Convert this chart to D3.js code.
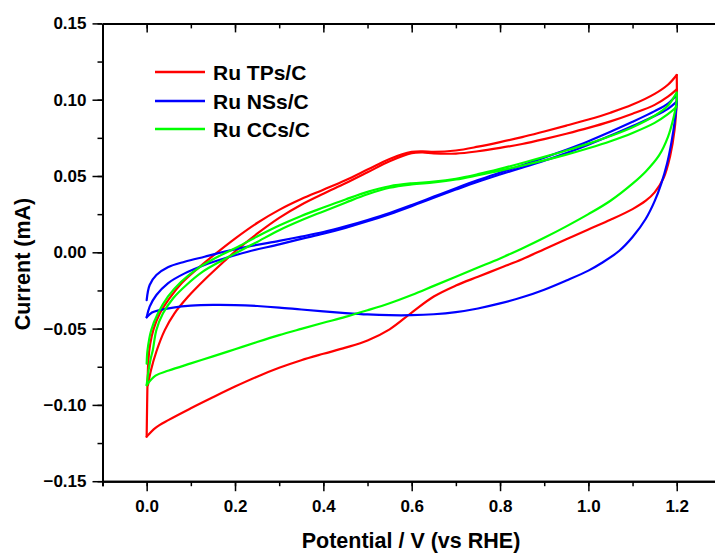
<!DOCTYPE html>
<html>
<head>
<meta charset="utf-8">
<script src="https://cdn.jsdelivr.net/npm/d3@7/dist/d3.min.js"></script>
<style>
  html, body { margin: 0; padding: 0; background: #fff; }
  svg { display: block; }
  text { font-family: "Liberation Sans", Arial, sans-serif; font-weight: bold; fill: #000; }
</style>
</head>
<body>
<svg id="chart" width="715" height="553"></svg>
<script>
// ---------- data (potential V vs RHE, current mA) ----------
const seriesNames = ["Ru TPs/C", "Ru NSs/C", "Ru CCs/C"];
const seriesColors = ["#ff0000", "#0000ff", "#00ff00"];

const xTickValues = [0.0, 0.2, 0.4, 0.6, 0.8, 1.0, 1.2];
const yTickValues = [-0.15, -0.10, -0.05, 0.00, 0.05, 0.10, 0.15];

// Ru TPs/C
const redUpperA = [[0,-0.1208],[0.001,-0.100],[0.002,-0.085],[0.004,-0.070],[0.008,-0.060],[0.016,-0.050],[0.030,-0.040],[0.052,-0.030],[0.080,-0.020],[0.118,-0.010],[0.160,0.000],[0.200,0.0090],[0.25,0.0192],[0.30,0.0278],[0.35,0.0349],[0.40,0.0410],[0.45,0.0472],[0.50,0.0542],[0.55,0.0612],[0.60,0.0658],[0.625,0.0662],[0.65,0.0658],[0.70,0.0667],[0.75,0.0692],[0.80,0.0722],[0.85,0.0755],[0.90,0.0792],[0.95,0.0830],[1.00,0.0870],[1.05,0.0915],[1.10,0.0968],[1.15,0.1038],[1.18,0.1098],[1.20,0.1162]];
const redUpperB = [[0.003,-0.087],[0.010,-0.077],[0.022,-0.065],[0.041,-0.051],[0.063,-0.040],[0.094,-0.029],[0.131,-0.018],[0.177,-0.0055],[0.20,0.0005],[0.25,0.0122],[0.30,0.0226],[0.35,0.0312],[0.40,0.0384],[0.45,0.0452],[0.50,0.0524],[0.55,0.0597],[0.60,0.0650],[0.625,0.0655],[0.65,0.0648],[0.70,0.0647],[0.75,0.0662],[0.80,0.0684],[0.85,0.0710],[0.90,0.0742],[0.95,0.0777],[1.00,0.0815],[1.05,0.0858],[1.10,0.0908],[1.15,0.0966],[1.18,0.1020],[1.20,0.1068]];
const redLower = [[1.20,0.1162],[1.20,0.100],[1.195,0.0800],[1.185,0.0630],[1.17,0.0485],[1.15,0.0393],[1.13,0.0338],[1.10,0.0283],[1.05,0.0213],[1.00,0.0150],[0.95,0.0085],[0.90,0.0020],[0.85,-0.0045],[0.80,-0.0103],[0.75,-0.0160],[0.70,-0.0218],[0.65,-0.0290],[0.60,-0.0395],[0.55,-0.0505],[0.50,-0.0578],[0.45,-0.0625],[0.40,-0.0665],[0.35,-0.0707],[0.30,-0.0757],[0.25,-0.0815],[0.20,-0.0880],[0.15,-0.0950],[0.10,-0.1022],[0.05,-0.1098],[0.02,-0.1150],[0,-0.1208]];

// Ru NSs/C
const blueUpperA = [[0,-0.0313],[0.0068,-0.0214],[0.022,-0.0149],[0.048,-0.0098],[0.086,-0.0062],[0.131,-0.0029],[0.177,0.0004],[0.229,0.0037],[0.30,0.0075],[0.35,0.0103],[0.40,0.0133],[0.45,0.0170],[0.50,0.0212],[0.55,0.0258],[0.60,0.0310],[0.65,0.0365],[0.70,0.0420],[0.75,0.0473],[0.80,0.0522],[0.85,0.0570],[0.90,0.0620],[0.95,0.0672],[1.00,0.0728],[1.05,0.0790],[1.10,0.0855],[1.15,0.0925],[1.18,0.0975],[1.20,0.1031]];
const blueUpperB = [[0,-0.0426],[0.0068,-0.0356],[0.022,-0.0280],[0.048,-0.0203],[0.086,-0.0138],[0.131,-0.0083],[0.177,-0.0039],[0.229,0.0004],[0.30,0.0052],[0.35,0.0088],[0.40,0.0122],[0.45,0.0160],[0.50,0.0203],[0.55,0.0250],[0.60,0.0302],[0.65,0.0357],[0.70,0.0411],[0.75,0.0463],[0.80,0.0510],[0.85,0.0555],[0.90,0.0600],[0.95,0.0650],[1.00,0.0705],[1.05,0.0765],[1.10,0.0828],[1.15,0.0893],[1.18,0.0940],[1.20,0.0987]];
const blueLower = [[1.20,0.1031],[1.20,0.0976],[1.196,0.0870],[1.188,0.0720],[1.178,0.0580],[1.165,0.0450],[1.15,0.0335],[1.13,0.0220],[1.10,0.0100],[1.07,0.0010],[1.03,-0.0070],[1.00,-0.0120],[0.95,-0.0185],[0.90,-0.0245],[0.85,-0.0295],[0.80,-0.0335],[0.75,-0.0368],[0.70,-0.0392],[0.65,-0.0406],[0.60,-0.0412],[0.55,-0.0412],[0.50,-0.0407],[0.45,-0.0398],[0.40,-0.0387],[0.35,-0.0375],[0.30,-0.0362],[0.25,-0.0352],[0.20,-0.0346],[0.15,-0.0345],[0.10,-0.0350],[0.06,-0.0362],[0.03,-0.0378],[0.012,-0.0395],[0,-0.0426]];

// Ru CCs/C
const greenUpperA = [[0,-0.073],[0.002,-0.064],[0.0104,-0.0509],[0.0256,-0.0400],[0.048,-0.0291],[0.078,-0.0193],[0.116,-0.0105],[0.161,-0.0029],[0.207,0.0037],[0.25,0.0103],[0.30,0.0175],[0.35,0.0238],[0.40,0.0293],[0.45,0.0346],[0.50,0.0396],[0.55,0.0433],[0.60,0.0452],[0.65,0.0463],[0.70,0.0482],[0.75,0.0512],[0.80,0.0547],[0.85,0.0585],[0.90,0.0625],[0.95,0.0667],[1.00,0.0712],[1.05,0.0762],[1.10,0.0820],[1.15,0.0895],[1.18,0.0960],[1.20,0.1046]];
const greenUpperB = [[0,-0.087],[0.004,-0.078],[0.009,-0.070],[0.014,-0.064],[0.022,-0.0509],[0.037,-0.0400],[0.060,-0.0301],[0.090,-0.0214],[0.127,-0.0127],[0.173,-0.0050],[0.229,0.0037],[0.25,0.0068],[0.30,0.0145],[0.35,0.0210],[0.40,0.0268],[0.45,0.0325],[0.50,0.0380],[0.55,0.0423],[0.60,0.0445],[0.65,0.0458],[0.70,0.0477],[0.75,0.0505],[0.80,0.0535],[0.85,0.0568],[0.90,0.0602],[0.95,0.0640],[1.00,0.0682],[1.05,0.0728],[1.10,0.0782],[1.15,0.0848],[1.18,0.0905],[1.20,0.0954]];
const greenLower = [[1.20,0.1046],[1.20,0.0998],[1.193,0.0885],[1.18,0.0755],[1.16,0.0635],[1.13,0.0530],[1.10,0.0450],[1.05,0.0338],[1.00,0.0250],[0.95,0.0170],[0.90,0.0095],[0.85,0.0025],[0.80,-0.0040],[0.75,-0.0100],[0.70,-0.0160],[0.65,-0.0220],[0.60,-0.0280],[0.55,-0.0334],[0.50,-0.0380],[0.45,-0.0423],[0.40,-0.0462],[0.35,-0.0502],[0.30,-0.0543],[0.25,-0.0588],[0.20,-0.0635],[0.15,-0.0682],[0.10,-0.0728],[0.05,-0.0775],[0.02,-0.0808],[0,-0.0870]];

const seriesData = [
  [redUpperA, redUpperB, redLower],
  [blueUpperA, blueUpperB, blueLower],
  [greenUpperA, greenUpperB, greenLower]
];

// ---------- layout ----------
const svg = d3.select("#chart");
const x = d3.scaleLinear().domain([-0.1, 1.3]).range([102.5, 720.9]);
const y = d3.scaleLinear().domain([-0.15, 0.15]).range([481.2, 23.4]);

const line = d3.line()
  .x(d => x(d[0]))
  .y(d => y(d[1]))
  .curve(d3.curveCatmullRom.alpha(0.5));

// curves
const plot = svg.append("g");
seriesData.forEach((branches, i) => {
  branches.forEach(b => {
    plot.append("path")
      .attr("d", line(b))
      .attr("fill", "none")
      .attr("stroke", seriesColors[i])
      .attr("stroke-width", 2.2)
      .attr("stroke-linejoin", "round")
      .attr("stroke-linecap", "round");
  });
});

// axes
const fmt = d3.format(".2f");
const fmtX = d3.format(".1f");
const xMinor = d3.range(-1, 13).map(k => k / 10);
const yMinor = d3.range(-6, 7).map(k => k * 0.025);

function styleAxis(g) {
  g.select(".domain").attr("stroke", "#000").attr("stroke-width", 2);
  g.selectAll(".tick line").attr("stroke", "#000").attr("stroke-width", 1.5);
}
function styleLabels(g) {
  g.selectAll("text").attr("font-size", 17).attr("font-family", "Liberation Sans, Arial, sans-serif").attr("font-weight", "bold").attr("fill", "#000");
}

// bottom minor
svg.append("g").attr("transform", `translate(0,${y(-0.15)})`)
  .call(d3.axisBottom(x).tickValues(xMinor).tickSize(5).tickFormat(""))
  .call(styleAxis);
// bottom major
svg.append("g").attr("transform", `translate(0,${y(-0.15)})`)
  .call(d3.axisBottom(x).tickValues(xTickValues).tickSize(10).tickSizeOuter(0).tickPadding(9).tickFormat(fmtX))
  .call(styleAxis).call(styleLabels);

// top (inward ticks)
svg.append("g").attr("transform", `translate(0,${y(0.15)})`)
  .call(d3.axisBottom(x).tickValues(xMinor.filter(v => v > -0.1)).tickSize(5).tickSizeOuter(0).tickFormat(""))
  .call(styleAxis);
svg.append("g").attr("transform", `translate(0,${y(0.15)})`)
  .call(d3.axisBottom(x).tickValues(xTickValues).tickSize(9).tickSizeOuter(0).tickFormat(""))
  .call(styleAxis);

// left
svg.append("g").attr("transform", `translate(${x(-0.1)},0)`)
  .call(d3.axisLeft(y).tickValues(yMinor).tickSize(5).tickSizeOuter(0).tickFormat(""))
  .call(styleAxis);
svg.append("g").attr("transform", `translate(${x(-0.1)},0)`)
  .call(d3.axisLeft(y).tickValues(yTickValues).tickSize(10).tickSizeOuter(0).tickPadding(6).tickFormat(fmt))
  .call(styleAxis).call(styleLabels);

// axis titles
svg.append("text")
  .attr("x", 411).attr("y", 548)
  .attr("text-anchor", "middle")
  .attr("font-size", 21.5)
  .text("Potential / V (vs RHE)");
svg.append("text")
  .attr("transform", "translate(30,264) rotate(-90)")
  .attr("text-anchor", "middle")
  .attr("font-size", 21.5)
  .text("Current (mA)");

// legend
const legendY = [72, 101, 129];
const legend = svg.append("g");
seriesNames.forEach((name, i) => {
  legend.append("line")
    .attr("x1", 155).attr("x2", 205)
    .attr("y1", legendY[i]).attr("y2", legendY[i])
    .attr("stroke", seriesColors[i]).attr("stroke-width", 2.5);
  legend.append("text")
    .attr("x", 213).attr("y", legendY[i] + 8)
    .attr("font-size", 21)
    .text(name);
});
</script>
</body>
</html>
